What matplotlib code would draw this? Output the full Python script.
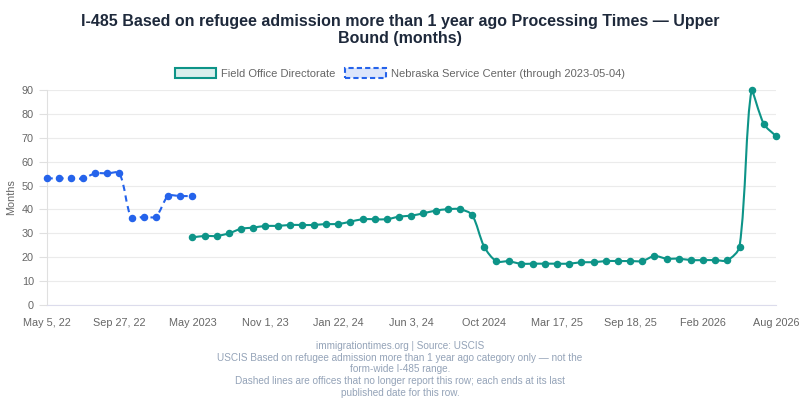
import numpy as np
import matplotlib
matplotlib.use("Agg")
from matplotlib import pyplot as plt
from matplotlib.path import Path
from matplotlib.patches import PathPatch, Patch

plt.rcParams['font.family'] = ['Liberation Sans', 'DejaVu Sans']

# categories (61 dates, only some labelled on the axis)
n_cats = 61
tick_idx = [0, 6, 12, 18, 24, 30, 36, 42, 48, 54, 60]
tick_labels = ["May 5, 22", "Sep 27, 22", "May 2023", "Nov 1, 23", "Jan 22, 24",
               "Jun 3, 24", "Oct 2024", "Mar 17, 25", "Sep 18, 25", "Feb 2026", "Aug 2026"]

# Nebraska Service Center: indices 0..12
nsc_vals = [53.0, 53.0, 53.0, 53.0, 55.1, 55.1, 55.1, 36.3, 37.0, 37.0, 45.6, 45.6, 45.6]
nsc_start = 0

# Field Office Directorate: indices 12..60
fod_vals = [28.3, 28.9, 28.9, 30.0, 31.9, 32.4, 33.1, 33.1, 33.5, 33.5,
            33.5, 33.9, 33.9, 34.9, 35.9, 35.9, 35.9, 37.0, 37.4, 38.4,
            39.5, 40.1, 40.1, 37.7, 24.4, 18.3, 18.3, 17.3, 17.3, 17.3,
            17.3, 17.3, 17.9, 17.9, 18.4, 18.4, 18.4, 18.4, 20.5, 19.4,
            19.4, 18.8, 18.8, 18.8, 18.7, 24.4, 90.0, 75.8, 70.7]
fod_start = 12

teal = "#0d9488"
blue = "#2563eb"
grey = "#666666"

fig = plt.figure(figsize=(8, 4), dpi=100)
ax = fig.add_axes([46.5 / 800, 95 / 400, 729.5 / 800, 215 / 400])
ax.set_xlim(0, n_cats - 1)
ax.set_ylim(0, 90)

# px per data unit, used for chart.js-like bezier smoothing
sx = 729.5 / (n_cats - 1)
sy = 215 / 90.0


def smooth_path(xs, ys, t=0.3):
    px = np.array(xs, float) * sx
    py = np.array(ys, float) * sy
    n = len(px)
    cp_prev = np.zeros((n, 2))
    cp_next = np.zeros((n, 2))
    for i in range(n):
        a = max(i - 1, 0)
        b = min(i + 1, n - 1)
        d01 = np.hypot(px[i] - px[a], py[i] - py[a])
        d12 = np.hypot(px[b] - px[i], py[b] - py[i])
        tot = d01 + d12
        s01 = d01 / tot if tot else 0
        s12 = d12 / tot if tot else 0
        dx, dy = px[b] - px[a], py[b] - py[a]
        cp_prev[i] = [px[i] - t * s01 * dx, py[i] - t * s01 * dy]
        cp_next[i] = [px[i] + t * s12 * dx, py[i] + t * s12 * dy]
    cp_prev[:, 1] = np.clip(cp_prev[:, 1], 0, 90 * sy)
    cp_next[:, 1] = np.clip(cp_next[:, 1], 0, 90 * sy)
    verts = [(px[0], py[0])]
    codes = [Path.MOVETO]
    for i in range(1, n):
        verts += [tuple(cp_next[i - 1]), tuple(cp_prev[i]), (px[i], py[i])]
        codes += [Path.CURVE4] * 3
    verts = [(x / sx, y / sy) for x, y in verts]
    return Path(verts, codes)


nsc_x = np.arange(nsc_start, nsc_start + len(nsc_vals))
fod_x = np.arange(fod_start, fod_start + len(fod_vals))

ax.add_patch(PathPatch(smooth_path(nsc_x, nsc_vals), fill=False, edgecolor=blue,
                       lw=1.5, linestyle=(0, (3, 2.2)), zorder=3, clip_on=False))
ax.plot(nsc_x, nsc_vals, ls="none", marker="o", ms=4.4, color=blue, mec=blue,
        zorder=4, clip_on=False)

ax.add_patch(PathPatch(smooth_path(fod_x, fod_vals), fill=False, edgecolor=teal,
                       lw=1.5, zorder=3, clip_on=False))
ax.plot(fod_x, fod_vals, ls="none", marker="o", ms=4.4, color=teal, mec=teal,
        zorder=4, clip_on=False)

# axes styling
ax.set_yticks(np.arange(0, 91, 10))
ax.set_xticks(tick_idx)
ax.set_xticklabels(tick_labels)
ax.grid(axis="y", color="#ebebeb", lw=0.8)
ax.set_axisbelow(True)
for s in ["top", "right"]:
    ax.spines[s].set_visible(False)
ax.spines["left"].set_color("#e0e0e0")
ax.spines["bottom"].set_color("#dcdcec")
ax.tick_params(axis="y", colors="#e0e0e0", labelcolor=grey, labelsize=7.8, length=6, pad=3)
ax.tick_params(axis="x", length=0, labelcolor=grey, labelsize=7.8, pad=15)
for lbl in ax.get_xticklabels():
    lbl.set_va("baseline")
ax.set_ylabel("Months", color=grey, fontsize=7.8, labelpad=4)

# legend with box handles
handles = [
    Patch(facecolor="#d9efed", edgecolor=teal, lw=1.5, label="Field Office Directorate"),
    Patch(facecolor="#dde6fb", edgecolor=blue, lw=1.5, linestyle=(0, (2.5, 1.5)),
          label="Nebraska Service Center (through 2023-05-04)"),
]
fig.legend(handles=handles, loc="center", bbox_to_anchor=(0.5, 1 - 73.5 / 400), ncol=2,
           frameon=False, fontsize=8.0, handlelength=3.7, handleheight=1.05,
           handletextpad=0.45, columnspacing=0.8, labelcolor=grey)

fig.text(0.5, 1 - 30 / 400,
         "I-485 Based on refugee admission more than 1 year ago Processing Times \u2014 Upper\nBound (months)",
         ha="center", va="center", fontsize=11.5, fontweight="bold", color="#1e293b",
         linespacing=1.2)

footer = ("immigrationtimes.org | Source: USCIS\n"
          "USCIS Based on refugee admission more than 1 year ago category only \u2014 not the\n"
          "form-wide I-485 range.\n"
          "Dashed lines are offices that no longer report this row; each ends at its last\n"
          "published date for this row.")
fig.text(0.5, 1 - 369.5 / 400, footer, ha="center", va="center", fontsize=7.2,
         color="#94a3b8", linespacing=1.22)

fig.savefig("out.png", dpi=100)
